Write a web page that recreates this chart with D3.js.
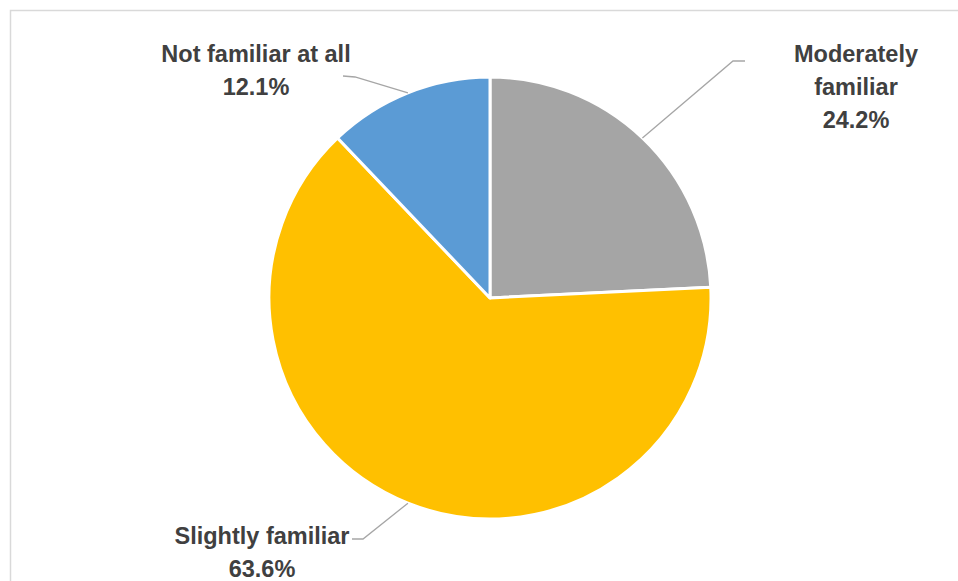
<!DOCTYPE html>
<html>
<head>
<meta charset="utf-8">
<script src="https://cdn.jsdelivr.net/npm/d3@7/dist/d3.min.js"></script>
<style>
  html, body { margin: 0; padding: 0; background: #fff; }
  svg { display: block; }
</style>
</head>
<body>
<svg id="chart" width="958" height="581"></svg>
<script>
// Familiarity survey: share of respondents per answer
const categories = ["Moderately familiar", "Slightly familiar", "Not familiar at all"];
const shares = [24.2, 63.6, 12.1];
const valueLabels = ["24.2%", "63.6%", "12.1%"];
// How each category name wraps inside its data label
const labelLines = [["Moderately", "familiar"], ["Slightly familiar"], ["Not familiar at all"]];
const sliceColors = ["#A5A5A5", "#FFC000", "#5B9BD5"];

const W = 958, H = 581;
const cx = 490, cy = 298, radius = 221;

// Label placement relative to the pie centre: leader elbow, leader end, text centre x, first baseline
const labelLayout = [
  { elbow: [243, -237], end: [255, -237], tx: 366, ty: -236 },
  { elbow: [-127, 241], end: [-138, 241], tx: -228, ty: 246 },
  { elbow: [-135, -221], end: [-147, -222], tx: -234, ty: -236 }
];
const lineGap = 33;

const svg = d3.select("#chart");

// Chart area frame
svg.append("rect")
  .attr("x", 10.5).attr("y", 10.5)
  .attr("width", W + 20).attr("height", H + 20)
  .attr("fill", "none")
  .attr("stroke", "#D9D9D9")
  .attr("stroke-width", 1.5);

const data = categories.map((c, i) => ({ name: c, value: shares[i], label: valueLabels[i], lines: labelLines[i], color: sliceColors[i], layout: labelLayout[i] }));

const pie = d3.pie().value(d => d.value).sort(null);
const arcs = pie(data);
const arc = d3.arc().innerRadius(0).outerRadius(radius);

const g = svg.append("g").attr("transform", `translate(${cx},${cy})`);

g.selectAll("path.slice")
  .data(arcs)
  .join("path")
  .attr("class", "slice")
  .attr("d", arc)
  .attr("fill", d => d.data.color)
  .attr("stroke", "#fff")
  .attr("stroke-width", 3)
  .attr("stroke-linejoin", "round");

// Leader lines from each slice's outer edge at its mid-angle
g.selectAll("polyline.leader")
  .data(arcs)
  .join("polyline")
  .attr("class", "leader")
  .attr("points", d => {
    const a = (d.startAngle + d.endAngle) / 2;
    const start = [Math.sin(a) * radius, -Math.cos(a) * radius];
    return [start, d.data.layout.elbow, d.data.layout.end].map(p => p.join(",")).join(" ");
  })
  .attr("fill", "none")
  .attr("stroke", "#A6A6A6")
  .attr("stroke-width", 1.3);

// Data labels: category name lines followed by the percentage
const labels = g.selectAll("text.label")
  .data(arcs)
  .join("text")
  .attr("class", "label")
  .attr("text-anchor", "middle")
  .attr("font-family", "'Liberation Sans', Arial, sans-serif")
  .attr("font-weight", "bold")
  .attr("font-size", 23.5)
  .attr("fill", "#404040");

labels.each(function(d) {
  const t = d3.select(this);
  const rows = d.data.lines.concat([d.data.label]);
  rows.forEach((row, i) => {
    t.append("tspan")
      .attr("x", d.data.layout.tx)
      .attr("y", d.data.layout.ty + i * lineGap)
      .text(row);
  });
});
</script>
</body>
</html>
